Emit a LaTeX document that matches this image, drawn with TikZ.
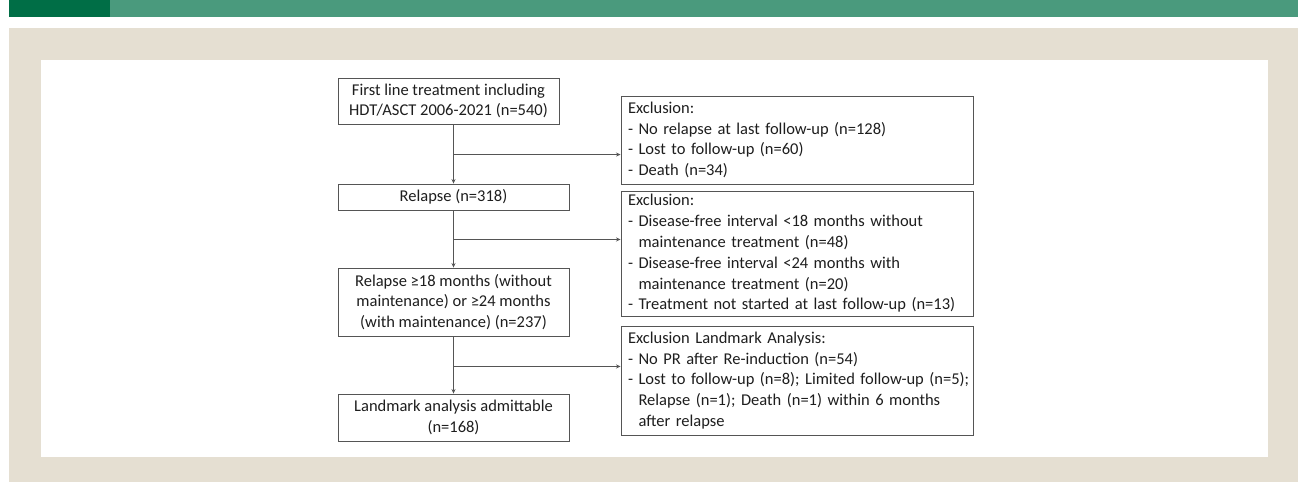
\documentclass[tikz,border=0pt]{standalone}
\usepackage{fontspec}
\setmainfont{Carlito}
\usetikzlibrary{arrows.meta,calc}
\definecolor{midgreen}{HTML}{4A9A7D}
\definecolor{darkgreen}{HTML}{006E46}
\definecolor{beige}{HTML}{E5DFD2}
\definecolor{boxline}{HTML}{555555}
\definecolor{txt}{HTML}{1E1E1E}
\tikzset{
  flowbox/.style={draw=boxline, line width=0.9pt, fill=white, align=center, inner sep=2pt,
    font=\fontsize{16.5}{20.8}\selectfont, text=txt},
  exclbox/.style={draw=boxline, line width=0.9pt, fill=white, align=left, inner xsep=7pt, inner ysep=2pt,
    text width=338pt, minimum width=352pt, font=\fontsize{16.5}{20.8}\selectfont, text=txt},
  arr/.style={draw=boxline, line width=0.9pt, -{Stealth[length=4.5pt,width=4pt]}},
  ln/.style={draw=boxline, line width=0.9pt}
}
\newcommand{\hang}{\hphantom{- }}
\begin{document}
\begin{tikzpicture}[x=1pt,y=-1pt]
\useasboundingbox (0,0) rectangle (1298,482);
\fill[white] (0,0) rectangle (1298,482);
% header band
\fill[darkgreen] (9,0) rectangle (110,17);
\fill[midgreen] (110,0) rectangle (1298,17);
% beige background and white panel
\fill[beige] (9,28) rectangle (1298,482);
\fill[white] (41,60) rectangle (1268,457);

% left column
\node[flowbox, minimum width=221pt, minimum height=46pt] (b1) at (448.5,101)
  {First line treatment including\\HDT/ASCT 2006-2021 (n=540)};
\node[flowbox, minimum width=231pt, minimum height=26pt] (b2) at (453.5,197)
  {Relapse (n=318)};
\node[flowbox, minimum width=231pt, minimum height=68pt] (b3) at (453.5,302)
  {Relapse ≥18 months (without\\maintenance) or ≥24 months\\(with maintenance) (n=237)};
\node[flowbox, minimum width=231pt, minimum height=47pt] (b4) at (453.5,417.5)
  {Landmark analysis admittable\\(n=168)};

% right column
\node[exclbox, minimum height=88pt] (e1) at (797,140)
  {Exclusion:\\- No relapse at last follow-up (n=128)\\- Lost to follow-up (n=60)\\- Death (n=34)};
\node[exclbox, minimum height=125pt] (e2) at (797,253.5)
  {Exclusion:\\- Disease-free interval <18 months without\\\hang maintenance treatment (n=48)\\- Disease-free interval <24 months with\\\hang maintenance treatment (n=20)\\- Treatment not started at last follow-up (n=13)};
\node[exclbox, minimum height=109pt] (e3) at (797,380.5)
  {Exclusion Landmark Analysis:\\- No PR after Re-induction (n=54)\\\leavevmode\rlap{- Lost to follow-up (n=8); Limited follow-up (n=5);}\\\hang Relapse (n=1); Death (n=1) within 6 months\\\hang after relapse};

% connectors
\coordinate (j1) at ($(b2.north)+(0,-29)$);
\coordinate (j2) at ($(b2.south)+(0,29)$);
\coordinate (j3) at ($(b3.south)+(0,30)$);
\draw[arr] (b1.south -| b2.north) -- (b2.north);
\draw[arr] (j1) -- (j1 -| e1.west);
\draw[arr] (b2.south) -- (b3.north);
\draw[arr] (j2) -- (j2 -| e2.west);
\draw[arr] (b3.south) -- (b4.north);
\draw[arr] (j3) -- (j3 -| e3.west);
\end{tikzpicture}
\end{document}
